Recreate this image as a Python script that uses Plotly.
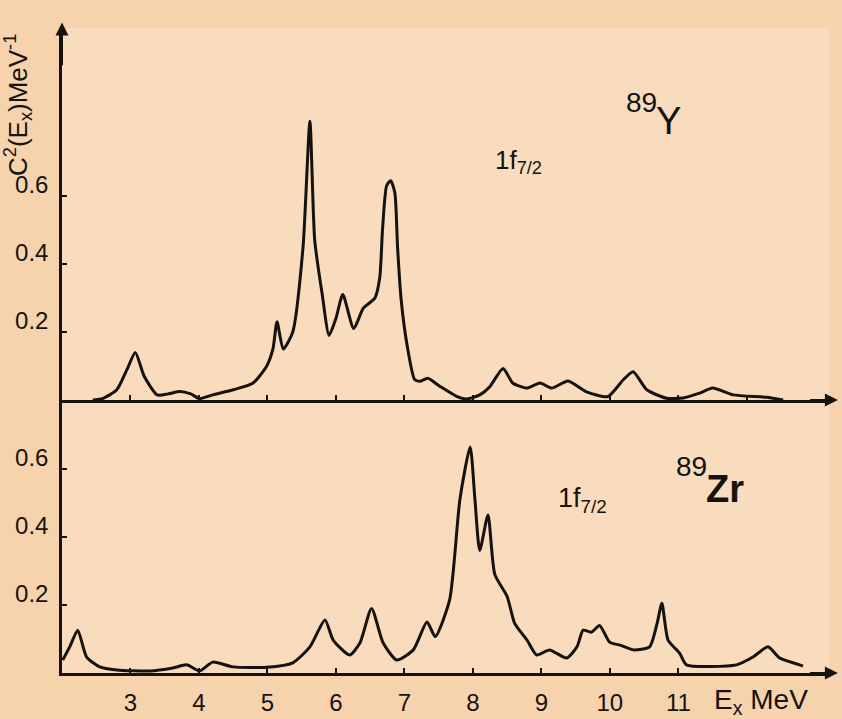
import plotly.graph_objects as go

# ---- data ----
y89_energy = [2.45, 2.6, 2.8, 2.95, 3.07, 3.2, 3.39, 3.55, 3.72, 3.88, 4.01, 4.2, 4.5, 4.79,
              4.99, 5.08, 5.14, 5.23, 5.37, 5.52, 5.62, 5.69, 5.8, 5.9, 6.0, 6.1, 6.26, 6.4,
              6.57, 6.64, 6.68, 6.74, 6.8, 6.86, 6.9, 6.95, 7.04, 7.15, 7.23, 7.34, 7.52, 7.77,
              7.91, 8.1, 8.25, 8.44, 8.58, 8.69, 8.79, 8.98, 9.15, 9.39, 9.66, 9.97, 10.19,
              10.34, 10.54, 10.83, 11.07, 11.31, 11.5, 11.8, 12.29, 12.53]
y89_c2 = [0.0, 0.005, 0.03, 0.09, 0.14, 0.07, 0.015, 0.018, 0.025, 0.018, 0.004, 0.015, 0.03,
          0.05, 0.1, 0.15, 0.23, 0.15, 0.2, 0.45, 0.82, 0.47, 0.31, 0.19, 0.24, 0.31, 0.21,
          0.27, 0.30, 0.36, 0.50, 0.63, 0.645, 0.61, 0.45, 0.30, 0.16, 0.06, 0.055, 0.064,
          0.04, 0.01, 0.003, 0.015, 0.04, 0.093, 0.05, 0.04, 0.035, 0.05, 0.035, 0.056, 0.024,
          0.01, 0.058, 0.083, 0.03, 0.005, 0.006, 0.02, 0.035, 0.015, 0.008, 0.0]

zr89_energy = [2.01, 2.12, 2.23, 2.36, 2.55, 2.8, 3.28, 3.62, 3.82, 4.01, 4.2, 4.5, 4.99, 5.37,
               5.62, 5.84, 5.96, 6.2, 6.35, 6.52, 6.69, 6.89, 7.13, 7.33, 7.45, 7.66, 7.81,
               7.96, 8.03, 8.1, 8.22, 8.32, 8.5, 8.61, 8.79, 8.93, 9.12, 9.37, 9.52, 9.61,
               9.73, 9.85, 10.0, 10.15, 10.34, 10.58, 10.69, 10.76, 10.85, 11.02, 11.12,
               11.85, 12.09, 12.31, 12.48, 12.77, 12.82]
zr89_c2 = [0.038, 0.08, 0.126, 0.047, 0.018, 0.009, 0.006, 0.015, 0.024, 0.006, 0.032, 0.018,
           0.017, 0.03, 0.077, 0.156, 0.097, 0.053, 0.088, 0.19, 0.088, 0.038, 0.068, 0.15,
           0.107, 0.215, 0.51, 0.665, 0.51, 0.36, 0.465, 0.29, 0.225, 0.146, 0.097, 0.053,
           0.068, 0.044, 0.077, 0.126, 0.12, 0.14, 0.09, 0.082, 0.068, 0.077, 0.146, 0.205,
           0.097, 0.058, 0.024, 0.024, 0.047, 0.077, 0.044, 0.024, 0.02]

top_x_ticks = [3, 4, 5, 6, 7, 8, 9, 10, 11, 12]
bottom_x_ticks = [3, 4, 5, 6, 7, 8, 9, 10, 11]
bottom_x_labels = ["3", "4", "5", "6", "7", "8", "9", "10", "11"]
y_ticks = [0.2, 0.4, 0.6]
y_tick_labels = ["0.2", "0.4", "0.6"]

FONT = "Liberation Sans"
INK = "#151210"
PAPER = "#f6d2ad"

fig = go.Figure()
fig.add_trace(go.Scatter(x=y89_energy, y=y89_c2, mode="lines", xaxis="x", yaxis="y",
                         line=dict(color=INK, width=3, shape="spline", smoothing=0.6),
                         showlegend=False, hoverinfo="skip"))
fig.add_trace(go.Scatter(x=zr89_energy, y=zr89_c2, mode="lines", xaxis="x2", yaxis="y2",
                         line=dict(color=INK, width=3, shape="spline", smoothing=0.6),
                         showlegend=False, hoverinfo="skip"))

PLOT_H = 645.0
split = (673 - 400) / PLOT_H
axis_common = dict(showline=True, linecolor=INK, linewidth=2.5, showgrid=False,
                   zeroline=False, ticks="inside", tickcolor=INK, tickwidth=2, ticklen=5,
                   tickfont=dict(family=FONT, size=24, color=INK))

fig.update_layout(
    width=842, height=719,
    margin=dict(l=62, r=13, t=28, b=46, autoexpand=False),
    paper_bgcolor=PAPER,
    plot_bgcolor="#f8dcbd",
    xaxis=dict(axis_common, domain=[0, 1], range=[2, 13.2], anchor="y",
               tickvals=top_x_ticks, showticklabels=False),
    yaxis=dict(axis_common, domain=[split, 1], range=[0, 1.094], anchor="x",
               tickvals=y_ticks, ticktext=y_tick_labels, ticklabelshift=-11, ticklabelstandoff=6),
    xaxis2=dict(axis_common, domain=[0, 1], range=[2, 13.2], anchor="y2",
                tickvals=bottom_x_ticks, ticktext=bottom_x_labels, ticklabelstandoff=6),
    yaxis2=dict(axis_common, domain=[0, split], range=[0, 0.803], anchor="x2",
                tickvals=y_ticks, ticktext=y_tick_labels, ticklabelshift=-11, ticklabelstandoff=6),
)

def arrow(x, y, ax, ay, xr, yr):
    fig.add_annotation(x=x, y=y, ax=ax, ay=ay, xref=xr, yref=yr, axref=xr, ayref=yr,
                       showarrow=True, arrowhead=2, arrowsize=1.3, arrowwidth=2,
                       arrowcolor=INK, text="")

arrow(13.33, 0, 12.9, 0, "x", "y")
arrow(13.33, 0, 12.9, 0, "x2", "y2")
arrow(2, 1.11, 2, 0.98, "x", "y")

def label(text, x, y, xr, yr, size, xanchor="left", bold=False):
    fig.add_annotation(x=x, y=y, xref=xr, yref=yr, text=text, showarrow=False,
                       xanchor=xanchor, yanchor="middle",
                       font=dict(family=FONT, size=size, color=INK,
                                 weight="bold" if bold else "normal"))

# y-axis title
fig.add_annotation(x=-44 / 767.0, y=(673 - 105) / PLOT_H, xref="paper", yref="paper",
                   xanchor="center", yanchor="middle",
                   text="C<sup>2</sup>(E<sub>x</sub>)MeV<sup>-1</sup>", textangle=-90,
                   showarrow=False, font=dict(family=FONT, size=26, color=INK))
# x-axis unit label
fig.add_annotation(x=12.2, y=-28 / PLOT_H, xref="x2", yref="paper",
                   xanchor="center", yanchor="middle",
                   text="E<sub>x</sub> MeV", showarrow=False,
                   font=dict(family=FONT, size=28, color=INK))

# panel labels
label("1f<sub>7/2</sub>", 8.67, 0.70, "x", "y", 26, xanchor="center")
label("89", 10.2, 0.874, "x", "y", 28)
label("Y", 10.64, 0.82, "x", "y", 38)
label("1f<sub>7/2</sub>", 9.6, 0.51, "x2", "y2", 27, xanchor="center")
label("89", 10.93, 0.606, "x2", "y2", 28)
label("Zr", 11.38, 0.54, "x2", "y2", 38, bold=True)

fig.write_html(
    "out.html",
    config={"displayModeBar": False},
    post_script="document.body.style.margin='0';document.body.style.background='" + PAPER + "';",
)
